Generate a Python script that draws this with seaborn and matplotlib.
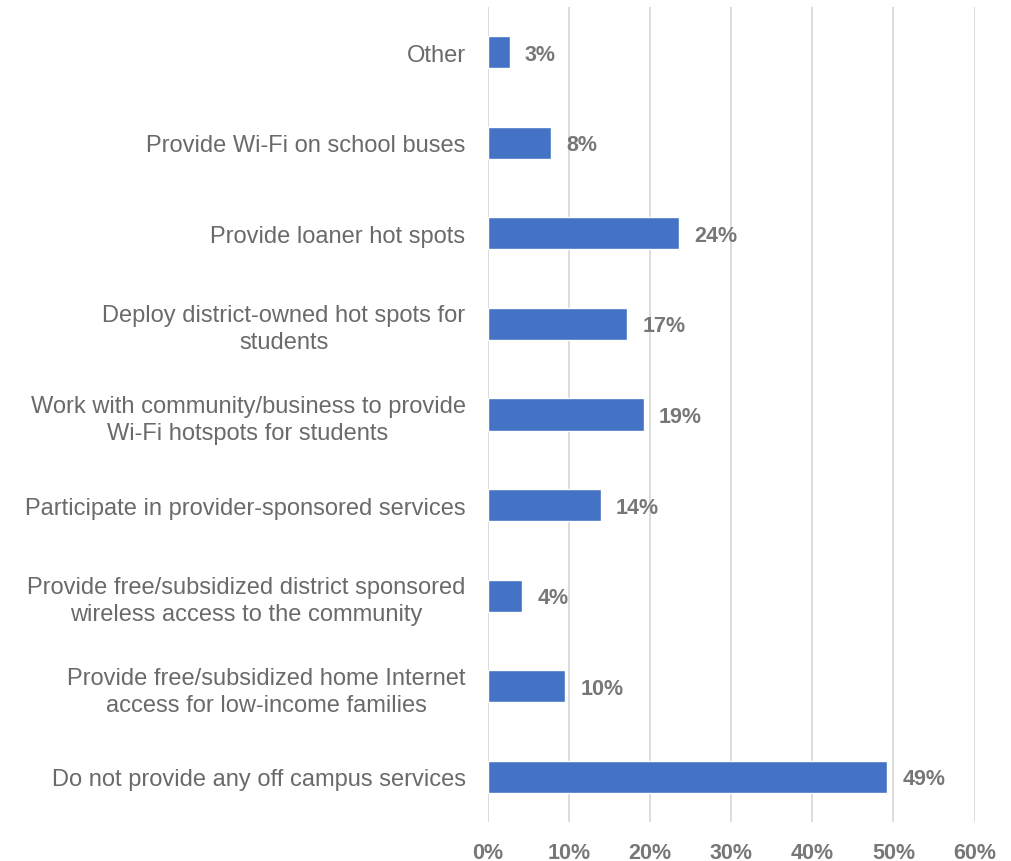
import matplotlib
matplotlib.use("Agg")
import matplotlib.pyplot as plt
import seaborn as sns
import pandas as pd
from matplotlib.ticker import FuncFormatter

categories = [
    "Other",
    "Provide Wi-Fi on school buses",
    "Provide loaner hot spots",
    "Deploy district-owned hot spots for\nstudents",
    "Work with community/business to provide\nWi-Fi hotspots for students",
    "Participate in provider-sponsored services",
    "Provide free/subsidized district sponsored\nwireless access to the community",
    "Provide free/subsidized home Internet\naccess for low-income families",
    "Do not provide any off campus services",
]
shares = [2.7, 7.8, 23.6, 17.2, 19.2, 13.9, 4.2, 9.5, 49.2]
x_ticks = [0, 10, 20, 30, 40, 50, 60]

sns.set_theme(style="white")
plt.rcParams["font.family"] = ["Liberation Sans", "DejaVu Sans"]

df = pd.DataFrame({"category": categories, "share": shares})

fig = plt.figure(figsize=(10.12, 8.62), dpi=100)
ax = fig.add_axes([0.482, 0.045, 0.481, 0.946])

sns.barplot(data=df, x="share", y="category", orient="h", color="#4472C4",
            saturation=1, width=0.355, ax=ax, zorder=3)

ax.set_xlim(0, 60)
ax.set_ylim(len(categories) - 0.5, -0.5)
ax.set_xticks(x_ticks)
ax.xaxis.set_major_formatter(FuncFormatter(lambda v, p: f"{v:.0f}%"))
ax.grid(axis="x", color="#d9d9d9", linewidth=1.3, zorder=0)
ax.grid(axis="y", visible=False)
for s in ax.spines.values():
    s.set_visible(False)
ax.set_xlabel("")
ax.set_ylabel("")
ax.tick_params(axis="both", length=0)
ax.tick_params(axis="y", pad=16)
ax.tick_params(axis="x", pad=14)

for lbl in ax.get_yticklabels():
    lbl.set_fontsize(17)
    lbl.set_color("#6a6a6a")
    lbl.set_horizontalalignment("right")
    lbl.set_multialignment("center")
    lbl.set_linespacing(1.28)
for lbl in ax.get_xticklabels():
    lbl.set_fontsize(15.5)
    lbl.set_fontweight("bold")
    lbl.set_color("#777777")

for i, v in enumerate(shares):
    ax.annotate(f"{v:.0f}%", xy=(v, i), xytext=(11, -1.5), textcoords="offset points",
                va="center", ha="left", fontsize=15.5, fontweight="bold",
                color="#777777")

fig.savefig("out.png", dpi=100)
